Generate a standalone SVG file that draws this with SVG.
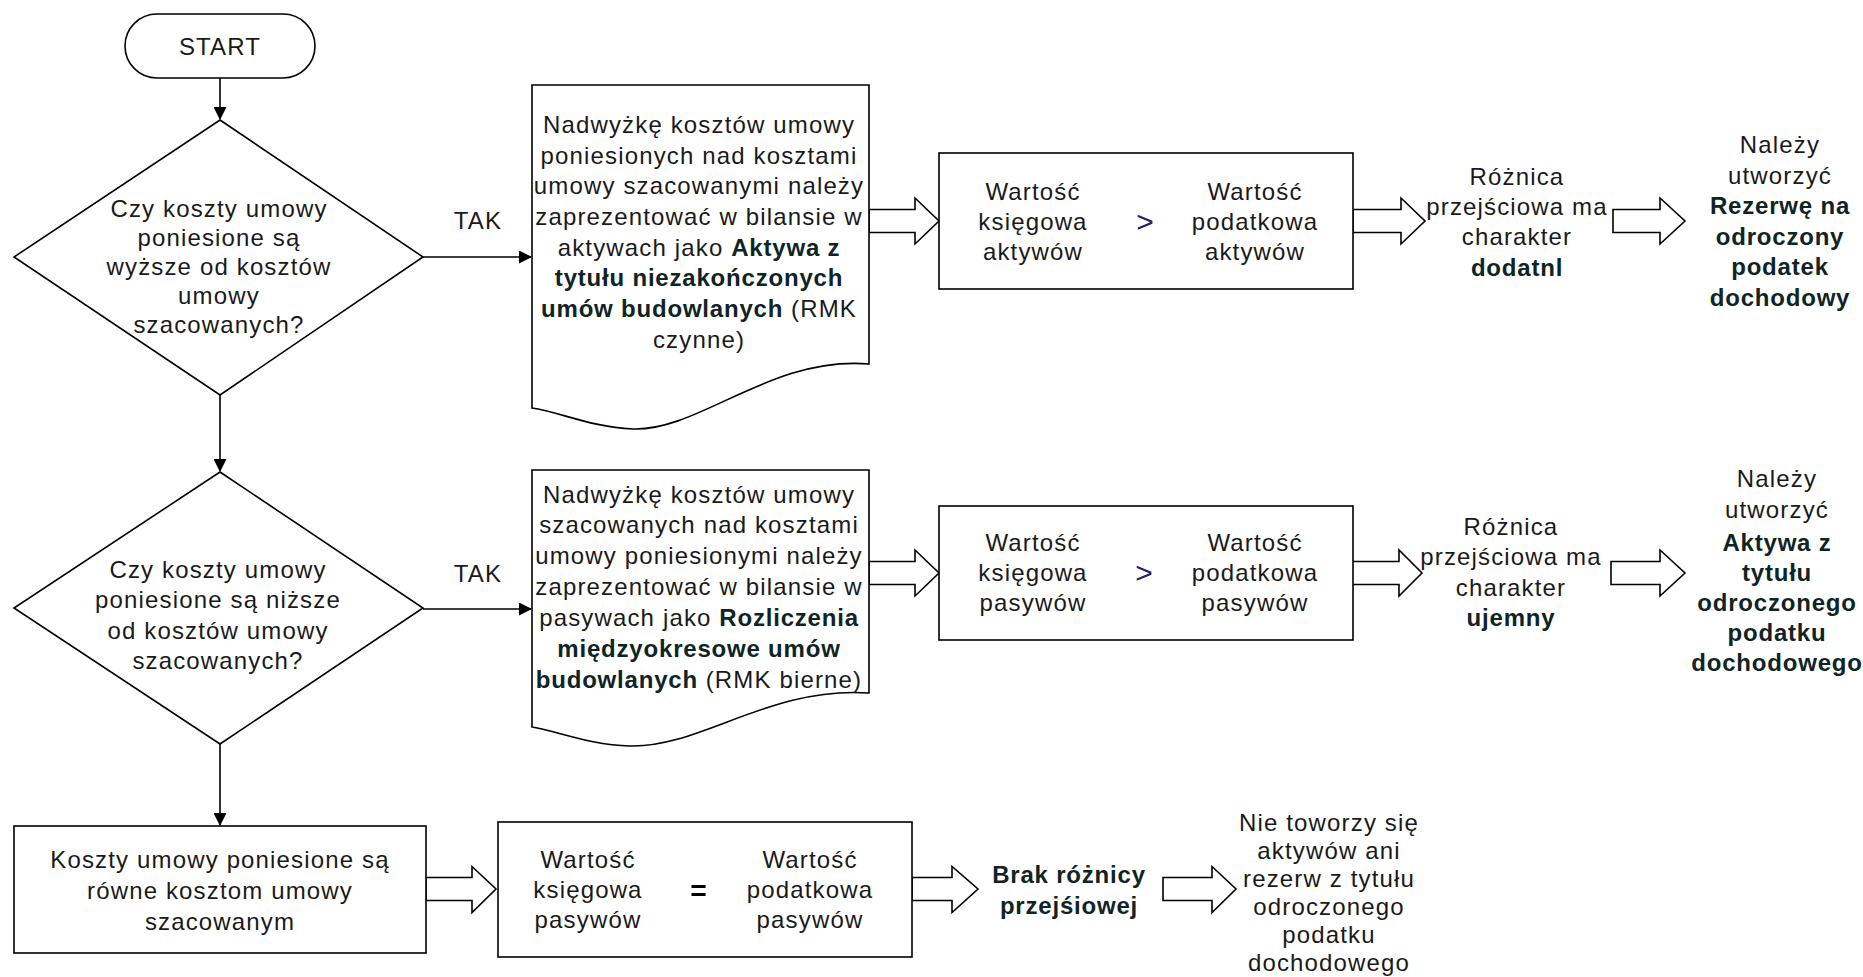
<svg xmlns="http://www.w3.org/2000/svg" width="1863" height="977" viewBox="0 0 1863 977">
<style>
.s{fill:#fff;stroke:#000;stroke-width:1.6}
.t{font-family:"Liberation Sans",Arial,sans-serif;font-size:24px;letter-spacing:1.15px;fill:#1a1a1a;text-anchor:middle}
.b{font-weight:bold;fill:#0f2424;letter-spacing:0.8px}
.ln{stroke:#000;stroke-width:1.6;fill:none}
.ba{fill:#fff;stroke:#000;stroke-width:1.6;stroke-linejoin:miter}
.op{font-family:"Liberation Sans",Arial,sans-serif;font-size:30px;fill:#22226a;text-anchor:middle}
</style>
<defs>
<marker id="ah" markerWidth="13" markerHeight="13" refX="12" refY="6.5" orient="auto" markerUnits="userSpaceOnUse">
<path d="M0,0 L13,6.5 L0,13 Z" fill="#000"/>
</marker>
</defs>
<rect width="1863" height="977" fill="#fff"/>

<g id="connectors">
<line class="ln" x1="220" y1="78" x2="220" y2="119" marker-end="url(#ah)"/>
<line class="ln" x1="220" y1="395" x2="220" y2="471" marker-end="url(#ah)"/>
<line class="ln" x1="220" y1="744" x2="220" y2="825" marker-end="url(#ah)"/>
<line class="ln" x1="423" y1="257" x2="531" y2="257" marker-end="url(#ah)"/>
<line class="ln" x1="423" y1="609" x2="531" y2="609" marker-end="url(#ah)"/>
<text class="t" x="478" y="229">TAK</text>
<text class="t" x="478" y="582">TAK</text>
<polygon class="ba" points="869,209.5 915,209.5 915,198 939,221 915,244 915,232.5 869,232.5"/>
<polygon class="ba" points="1353,209.5 1401,209.5 1401,198 1425,221 1401,244 1401,232.5 1353,232.5"/>
<polygon class="ba" points="1613,209.5 1660,209.5 1660,198 1685,221 1660,244 1660,232.5 1613,232.5"/>
<polygon class="ba" points="869,561.5 915,561.5 915,550 939,573 915,596 915,584.5 869,584.5"/>
<polygon class="ba" points="1351,561.5 1399,561.5 1399,550 1422,573 1399,596 1399,584.5 1351,584.5"/>
<polygon class="ba" points="1611,561.5 1660,561.5 1660,550 1685,573 1660,596 1660,584.5 1611,584.5"/>
<polygon class="ba" points="426,877.5 472,877.5 472,866.5 496,889 472,912.5 472,900.5 426,900.5"/>
<polygon class="ba" points="912,877.5 952,877.5 952,866.5 978,889 952,912.5 952,900.5 912,900.5"/>
<polygon class="ba" points="1163,877.5 1212,877.5 1212,866.5 1236,889 1212,912.5 1212,900.5 1163,900.5"/>
</g>

<g id="start">
<rect class="s" x="125" y="14" width="190" height="64" rx="32" ry="32"/>
<text class="t" x="220" y="55">START</text>
</g>

<g id="decision1">
<polygon class="s" points="220,120 423,257 220,395 14,257"/>
<text class="t" x="219" y="217">Czy koszty umowy</text>
<text class="t" x="219" y="246">poniesione są</text>
<text class="t" x="219" y="275">wyższe od kosztów</text>
<text class="t" x="219" y="304">umowy</text>
<text class="t" x="219" y="333">szacowanych?</text>
</g>

<g id="decision2">
<polygon class="s" points="220,472 423,608 220,744 14,608"/>
<text class="t" x="218" y="578">Czy koszty umowy</text>
<text class="t" x="218" y="608">poniesione są niższe</text>
<text class="t" x="218" y="639">od kosztów umowy</text>
<text class="t" x="218" y="669">szacowanych?</text>
</g>

<g id="doc1">
<path class="s" d="M532,85 H869 V364 C770,356 700,431 633,429 C590,427 560,412 532,408 Z"/>
<text class="t" x="699" y="133">Nadwyżkę kosztów umowy</text>
<text class="t" x="699" y="164">poniesionych nad kosztami</text>
<text class="t" x="699" y="194">umowy szacowanymi należy</text>
<text class="t" x="699" y="225">zaprezentować w bilansie w</text>
<text class="t" x="699" y="256">aktywach jako <tspan class="b">Aktywa z</tspan></text>
<text class="t b" x="699" y="286">tytułu niezakończonych</text>
<text class="t" x="699" y="317"><tspan class="b">umów budowlanych</tspan> (RMK</text>
<text class="t" x="699" y="348">czynne)</text>
</g>

<g id="doc2">
<path class="s" d="M532,470 H869 V693 C770,686 700,748 630,746 C590,745 560,732 532,727 Z"/>
<text class="t" x="699" y="503">Nadwyżkę kosztów umowy</text>
<text class="t" x="699" y="533">szacowanych nad kosztami</text>
<text class="t" x="699" y="564">umowy poniesionymi należy</text>
<text class="t" x="699" y="595">zaprezentować w bilansie w</text>
<text class="t" x="699" y="626">pasywach jako <tspan class="b">Rozliczenia</tspan></text>
<text class="t b" x="699" y="657">międzyokresowe umów</text>
<text class="t" x="699" y="688"><tspan class="b">budowlanych</tspan> (RMK bierne)</text>
</g>

<g id="compare1">
<rect class="s" x="939" y="153" width="414" height="136"/>
<text class="t" x="1033" y="200">Wartość</text>
<text class="t" x="1033" y="230">księgowa</text>
<text class="t" x="1033" y="260">aktywów</text>
<text class="op" x="1145" y="232">&gt;</text>
<text class="t" x="1255" y="200">Wartość</text>
<text class="t" x="1255" y="230">podatkowa</text>
<text class="t" x="1255" y="260">aktywów</text>
</g>

<g id="compare2">
<rect class="s" x="939" y="506" width="414" height="134"/>
<text class="t" x="1033" y="551">Wartość</text>
<text class="t" x="1033" y="581">księgowa</text>
<text class="t" x="1033" y="611">pasywów</text>
<text class="op" x="1144" y="583">&gt;</text>
<text class="t" x="1255" y="551">Wartość</text>
<text class="t" x="1255" y="581">podatkowa</text>
<text class="t" x="1255" y="611">pasywów</text>
</g>

<g id="box3">
<rect class="s" x="14" y="826" width="412" height="127"/>
<text class="t" x="220" y="868">Koszty umowy poniesione są</text>
<text class="t" x="220" y="899">równe kosztom umowy</text>
<text class="t" x="220" y="930">szacowanym</text>
</g>

<g id="compare3">
<rect class="s" x="498" y="822" width="414" height="135"/>
<text class="t" x="588" y="868">Wartość</text>
<text class="t" x="588" y="898">księgowa</text>
<text class="t" x="588" y="928">pasywów</text>
<text class="t" x="699" y="900" style="font-weight:bold;font-size:28px;fill:#000">=</text>
<text class="t" x="810" y="868">Wartość</text>
<text class="t" x="810" y="898">podatkowa</text>
<text class="t" x="810" y="928">pasywów</text>
</g>

<g id="diff1">
<text class="t" x="1517" y="185">Różnica</text>
<text class="t" x="1517" y="215">przejściowa ma</text>
<text class="t" x="1517" y="245">charakter</text>
<text class="t b" x="1517" y="276">dodatnl</text>
</g>

<g id="result1">
<text class="t" x="1780" y="153">Należy</text>
<text class="t" x="1780" y="184">utworzyć</text>
<text class="t b" x="1780" y="214">Rezerwę na</text>
<text class="t b" x="1780" y="245">odroczony</text>
<text class="t b" x="1780" y="275">podatek</text>
<text class="t b" x="1780" y="306">dochodowy</text>
</g>

<g id="diff2">
<text class="t" x="1511" y="535">Różnica</text>
<text class="t" x="1511" y="565">przejściowa ma</text>
<text class="t" x="1511" y="596">charakter</text>
<text class="t b" x="1511" y="626">ujemny</text>
</g>

<g id="result2">
<text class="t" x="1777" y="487">Należy</text>
<text class="t" x="1777" y="518">utworzyć</text>
<text class="t b" x="1777" y="551">Aktywa z</text>
<text class="t b" x="1777" y="581">tytułu</text>
<text class="t b" x="1777" y="611">odroczonego</text>
<text class="t b" x="1777" y="641">podatku</text>
<text class="t b" x="1777" y="671">dochodowego</text>
</g>

<g id="diff3">
<text class="t b" x="1069" y="883">Brak różnicy</text>
<text class="t b" x="1069" y="914">przejśiowej</text>
</g>

<g id="result3">
<text class="t" x="1329" y="831">Nie toworzy się</text>
<text class="t" x="1329" y="859">aktywów ani</text>
<text class="t" x="1329" y="887">rezerw z tytułu</text>
<text class="t" x="1329" y="915">odroczonego</text>
<text class="t" x="1329" y="943">podatku</text>
<text class="t" x="1329" y="971">dochodowego</text>
</g>
</svg>
